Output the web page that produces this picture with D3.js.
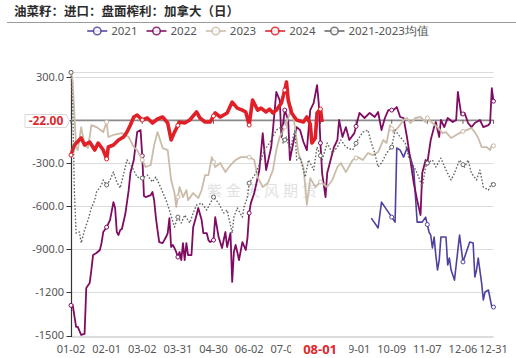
<!DOCTYPE html>
<html>
<head>
<meta charset="utf-8">
<script src="https://cdn.jsdelivr.net/npm/d3@7/dist/d3.min.js"></script>
<style>
body{margin:0;background:#fff;}
svg{display:block;font-family:"Noto Sans","DejaVu Sans",sans-serif;}
</style>
</head>
<body>
<svg id="chart" width="516" height="358"></svg>
<script>
// Category axis: trading days, labels shown every 21 days
var tickIdx = [0, 21, 42, 63, 84, 105, 126, 147, 168, 189, 210, 231, 249];
var tickLabels = ['01-02', '02-01', '03-02', '03-31', '04-30', '06-02', '07-01', '07-31', '09-01', '10-09', '11-07', '12-06', '12-31'];
var nDays = 250;

// Y axis ticks
var yTicks = [300, 0, -300, -600, -900, -1200, -1500];
var yTickLabels = ['300.0', '0.0', '-300.0', '-600.0', '-900.0', '-1200', '-1500'];

// Pointer (hovered) values
var pointerIdx = 148;
var pointerDate = '08-01';
var pointerValue = -22;

// Series: [day index, value]
var s2021 = [[177,-683],[181,-752],[183,-572],[191,-711],[192,-196],[194,-210],[196,-259],[198,-196],[200,-259],[202,-349],[204,-711],[207,-711],[209,-676],[211,-780],[212,-801],[213,-891],[214,-815],[215,-940],[216,-1044],[217,-975],[218,-815],[221,-815],[222,-1009],[223,-961],[224,-1044],[226,-1114],[229,-801],[231,-988],[233,-919],[235,-850],[237,-857],[238,-1093],[239,-1044],[240,-961],[242,-1135],[243,-1253],[244,-1197],[246,-1183],[248,-1302],[249,-1302]];

var s2022 = [[0,-1290],[1,-1288],[3,-1440],[4,-1440],[6,-1496],[8,-1489],[9,-1169],[11,-1135],[12,-1044],[13,-940],[15,-926],[17,-905],[18,-857],[19,-780],[21,-746],[23,-697],[25,-572],[26,-613],[27,-780],[28,-801],[29,-766],[30,-759],[32,-655],[34,-488],[35,-370],[37,-279],[39,-85],[41,-71],[42,-250],[43,-530],[44,-537],[47,-523],[48,-502],[49,-558],[50,-676],[51,-766],[52,-850],[54,-857],[56,-815],[57,-787],[58,-683],[59,-884],[60,-870],[61,-891],[62,-919],[63,-954],[64,-919],[65,-975],[66,-857],[67,-975],[68,-857],[69,-940],[71,-940],[72,-746],[74,-662],[75,-613],[77,-697],[78,-787],[80,-787],[81,-836],[82,-850],[84,-836],[85,-676],[87,-815],[89,-891],[91,-780],[92,-884],[94,-787],[95,-1127],[96,-919],[97,-870],[98,-919],[99,-975],[101,-850],[103,-905],[104,-822],[105,-648],[106,-579],[108,-509],[111,-349],[113,-92],[115,-349],[118,-189],[119,-71],[121,194],[123,138],[124,-119],[126,68],[128,-1],[129,-279],[131,-161],[133,-50],[135,-71],[137,-154],[139,-210],[141,68],[143,117],[145,242],[146,117],[147,-161],[148,-370],[150,-537],[151,-370],[153,-279],[155,-189],[157,-140],[158,-1],[160,-119],[162,-50],[164,-140],[167,-92],[170,48],[173,13],[176,48],[179,20],[181,55],[183,-71],[185,13],[187,68],[190,68],[192,89],[194,20],[196,13],[198,-119],[200,-279],[202,-439],[204,-558],[206,-662],[207,-370],[209,-279],[210,-300],[212,-140],[214,-50],[215,-15],[217,-119],[218,-1],[220,-50],[222,13],[225,-15],[227,-1],[228,194],[230,34],[232,48],[234,-22],[236,-50],[238,-22],[241,-1],[243,-50],[246,-36],[247,-22],[248,220],[249,130]];

var s2023 = [[0,330],[1,270],[3,-190],[4,-210],[6,-50],[8,-175],[10,-196],[12,-36],[15,-50],[19,-85],[21,-15],[22,-119],[25,-105],[30,-92],[34,-119],[37,-189],[39,-210],[42,-279],[44,-328],[47,-314],[49,-175],[51,-85],[54,-196],[57,-210],[59,-418],[61,-509],[62,-606],[64,-467],[66,-537],[68,-488],[69,-558],[72,-509],[75,-544],[77,-488],[79,-384],[81,-384],[83,-259],[85,-328],[88,-300],[91,-363],[94,-314],[97,-279],[100,-259],[102,-259],[105,-259],[108,-279],[110,-398],[113,-467],[116,-439],[119,-349],[121,-210],[123,-119],[126,-50],[128,13],[130,89],[132,-50],[134,-231],[137,-328],[139,-592],[141,-405],[144,-467],[147,-432],[151,-467],[154,-418],[157,-328],[159,-300],[162,-363],[166,-279],[169,-259],[172,-279],[175,-231],[178,-245],[181,-224],[184,-140],[186,-161],[188,-36],[190,-85],[193,-50],[196,-1],[198,13],[200,-22],[203,13],[206,20],[209,-15],[210,13],[213,-22],[216,-50],[219,-92],[221,-85],[224,-126],[227,-105],[230,-85],[233,-71],[236,-57],[238,-85],[240,-126],[242,-189],[245,-189],[247,-210],[248,-175],[249,-180]];

var s2024 = [[0,-245],[2,-175],[6,-126],[8,-175],[11,-154],[14,-210],[16,-161],[19,-210],[21,-272],[22,-189],[25,-175],[28,-140],[31,-119],[33,-85],[35,-36],[37,20],[39,34],[42,-1],[45,13],[48,-22],[51,6],[54,20],[57,-22],[59,-140],[61,-85],[64,-15],[67,-22],[70,-1],[74,55],[76,13],[79,-15],[82,-15],[85,48],[88,20],[92,48],[95,124],[98,82],[101,68],[103,55],[105,-36],[107,138],[110,68],[112,82],[115,55],[117,75],[119,48],[121,68],[124,117],[126,207],[127,263],[128,138],[130,48],[133,-1],[137,-15],[139,20],[141,-29],[142,-161],[144,-126],[145,48],[147,75],[148,-15]];

var sAvg = [[0,330],[1,100],[2,-500],[3,-787],[5,-780],[6,-856],[8,-766],[10,-697],[12,-613],[14,-558],[15,-502],[18,-453],[19,-418],[21,-453],[23,-418],[25,-363],[27,-432],[29,-474],[33,-279],[36,-328],[39,-398],[42,-405],[45,-384],[48,-432],[50,-398],[53,-474],[56,-558],[58,-627],[61,-745],[63,-676],[65,-717],[67,-662],[70,-717],[72,-648],[74,-592],[77,-579],[80,-627],[84,-537],[87,-579],[90,-648],[92,-627],[95,-787],[96,-676],[98,-613],[101,-676],[102,-606],[104,-537],[105,-440],[109,-370],[112,-279],[114,-210],[117,-161],[121,-71],[124,-50],[125,-161],[127,-119],[129,-210],[132,-71],[133,-279],[135,-259],[138,-398],[140,-279],[143,-349],[145,-189],[148,-279],[151,-161],[154,-231],[157,-189],[159,-140],[162,-189],[166,-210],[169,-140],[172,-85],[175,-71],[177,-161],[179,-231],[181,-328],[183,-300],[186,-231],[189,-189],[191,-71],[194,-119],[197,-161],[199,-259],[201,-300],[204,-370],[207,-467],[209,-328],[210,-300],[213,-279],[215,-328],[218,-266],[221,-349],[224,-418],[226,-370],[229,-279],[232,-328],[234,-279],[236,-370],[239,-418],[241,-349],[243,-467],[246,-488],[248,-440],[249,-450]];

var series = [
    {name: '2021', data: s2021, color: '#4e42a0', width: 1.6, dash: null},
    {name: '2022', data: s2022, color: '#800b62', width: 1.8, dash: null},
    {name: '2023', data: s2023, color: '#cbbcaa', width: 1.8, dash: null},
    {name: '2024', data: s2024, color: '#e01f27', width: 3.6, dash: null},
    {name: '2021-2023均值', data: sAvg, color: '#666666', width: 1.4, dash: '1.6,1.8'}
];

var svg = d3.select('#chart');

// Scales
var x = d3.scaleLinear().domain([0, nDays - 1]).range([71, 493.5]);
var y = d3.scaleLinear().domain([-1510, 335]).range([337, 71.7]);

// Title and separator
svg.append('text')
    .attr('x', 14).attr('y', 16)
    .attr('font-family', '"Noto Sans CJK SC", sans-serif')
    .attr('font-weight', 700)
    .attr('font-size', '12.5px')
    .attr('fill', '#2b2b2b')
    .text('油菜籽：进口：盘面榨利：加拿大（日）');

svg.append('line')
    .attr('x1', 7).attr('x2', 516)
    .attr('y1', 22.5).attr('y2', 22.5)
    .attr('stroke', '#9a9a9a').attr('stroke-width', 1.2);

// Grid lines (ticks plus the axis extent)
var gridVals = yTicks.concat(y.domain());
svg.append('g').selectAll('line')
    .data(gridVals)
    .enter().append('line')
    .attr('x1', x(0)).attr('x2', x(nDays - 1))
    .attr('y1', function(d){ return Math.round(y(d)) + 0.5 })
    .attr('y2', function(d){ return Math.round(y(d)) + 0.5 })
    .attr('stroke', '#dcdcdc').attr('stroke-width', 1);

// Watermark
svg.append('text')
    .attr('x', 207).attr('y', 196)
    .attr('font-family', '"Noto Sans CJK SC", sans-serif')
    .attr('font-size', '15px')
    .attr('letter-spacing', '4px')
    .attr('fill', '#c8c8c8')
    .attr('opacity', 0.55)
    .text('紫金天风期货');

// Y axis line, ticks and labels
var yAxis = svg.append('g');
yAxis.append('line')
    .attr('x1', 71.5).attr('x2', 71.5)
    .attr('y1', y.range()[1]).attr('y2', y.range()[0])
    .attr('stroke', '#333').attr('stroke-width', 1.2);
yAxis.selectAll('.yt')
    .data(yTicks)
    .enter().append('line')
    .attr('x1', 66.5).attr('x2', 71)
    .attr('y1', function(d){ return Math.round(y(d)) + 0.5 })
    .attr('y2', function(d){ return Math.round(y(d)) + 0.5 })
    .attr('stroke', '#333');
// labels hidden behind the pointer label are skipped
var yLabData = yTicks.map(function(v, i){ return [v, yTickLabels[i]] })
    .filter(function(d){ return Math.abs(y(d[0]) - y(pointerValue)) > 10 });
yAxis.selectAll('text')
    .data(yLabData)
    .enter().append('text')
    .attr('x', 64)
    .attr('y', function(d){ return y(d[0]) })
    .attr('dy', '0.35em')
    .attr('text-anchor', 'end')
    .attr('font-size', '11px')
    .attr('fill', '#555')
    .text(function(d){ return d[1] });

// X axis line at zero with ticks
var xAxis = svg.append('g');
xAxis.append('line')
    .attr('x1', x(0)).attr('x2', x(nDays - 1))
    .attr('y1', y(0) + 0.5).attr('y2', y(0) + 0.5)
    .attr('stroke', '#8a8a8a').attr('stroke-width', 1.6);
xAxis.selectAll('line.xt')
    .data(tickIdx)
    .enter().append('line')
    .attr('class', 'xt')
    .attr('x1', function(d){ return x(d) }).attr('x2', function(d){ return x(d) })
    .attr('y1', y(0)).attr('y2', y(0) + 4)
    .attr('stroke', '#666');

// X labels at the bottom (the one under the pointer label is covered)
var xLabData = tickIdx.map(function(v, i){ return [v, tickLabels[i]] })
    .filter(function(d){ return Math.abs(d[0] - pointerIdx) > 5 });
svg.append('g').selectAll('text')
    .data(xLabData)
    .enter().append('text')
    .attr('x', function(d){ return x(d[0]) })
    .attr('y', 353)
    .attr('text-anchor', 'middle')
    .attr('font-size', '11px')
    .attr('fill', '#555')
    .text(function(d){ return d[1] });

// Lines
var line = d3.line()
    .x(function(d){ return x(d[0]) })
    .y(function(d){ return y(d[1]) });

// Value of a series at a category (for the sampled symbols)
function valueAt(data, i){
    for(var k = 0; k < data.length - 1; k++){
        var a = data[k], b = data[k + 1];
        if(i >= a[0] && i <= b[0]){
            return a[1] + (b[1] - a[1]) * (i - a[0]) / (b[0] - a[0]);
        }
    }
    if(data.length && data[data.length - 1][0] == i) return data[data.length - 1][1];
    return null;
}

series.forEach(function(s){
    svg.append('path')
        .datum(s.data)
        .attr('fill', 'none')
        .attr('stroke', s.color)
        .attr('stroke-width', s.width)
        .attr('stroke-linejoin', 'round')
        .attr('stroke-dasharray', s.dash)
        .attr('d', line);

    var pts = tickIdx.map(function(i){ return [i, valueAt(s.data, i)] })
        .filter(function(p){ return p[1] !== null });
    svg.append('g').selectAll('circle')
        .data(pts)
        .enter().append('circle')
        .attr('cx', function(d){ return x(d[0]) })
        .attr('cy', function(d){ return y(d[1]) })
        .attr('r', 2)
        .attr('fill', '#fff')
        .attr('stroke', s.color)
        .attr('stroke-width', 1);
});

// Pointer label on y axis
var py = y(pointerValue) - 2;
var yLab = svg.append('g');
yLab.append('path')
    .attr('d', 'M25,' + (py - 6.5) + 'H66L69.5,' + py + 'L66,' + (py + 6.5) + 'H25Z')
    .attr('fill', '#fff').attr('stroke', '#d8d8d8');
yLab.append('text')
    .attr('x', 46).attr('y', py)
    .attr('dy', '0.36em')
    .attr('text-anchor', 'middle')
    .attr('font-size', '12px')
    .attr('font-weight', 700)
    .attr('fill', '#e0282e')
    .text(pointerValue.toFixed(2));

// Pointer label on x axis
var xLab = svg.append('g');
xLab.append('rect')
    .attr('x', x(pointerIdx) - 31).attr('y', 340)
    .attr('width', 58).attr('height', 18)
    .attr('fill', '#fff');
xLab.append('text')
    .attr('x', x(pointerIdx) - 2).attr('y', 354)
    .attr('text-anchor', 'middle')
    .attr('font-size', '13px')
    .attr('font-weight', 700)
    .attr('fill', '#e0282e')
    .text(pointerDate);

// Legend
var legend = svg.append('g');
var lx = 0;
series.forEach(function(s){
    var item = legend.append('g').attr('transform', 'translate(' + lx + ',0)');
    item.append('line')
        .attr('x1', 0).attr('x2', 20).attr('y1', 31).attr('y2', 31)
        .attr('stroke', s.color).attr('stroke-width', 1.8)
        .attr('opacity', 0.85);
    item.append('circle')
        .attr('cx', 10).attr('cy', 31).attr('r', 3.8)
        .attr('fill', '#fff').attr('stroke', s.color).attr('stroke-width', 1.5)
        .attr('opacity', 0.85);
    var t = item.append('text')
        .attr('x', 24).attr('y', 31).attr('dy', '0.35em')
        .attr('font-size', '11.5px')
        .attr('fill', '#555')
        .text(s.name);
    lx += 24 + t.node().getComputedTextLength() + 9;
});
legend.attr('transform', 'translate(' + (258 - (lx - 9) / 2) + ',0)');
</script>
</body>
</html>
